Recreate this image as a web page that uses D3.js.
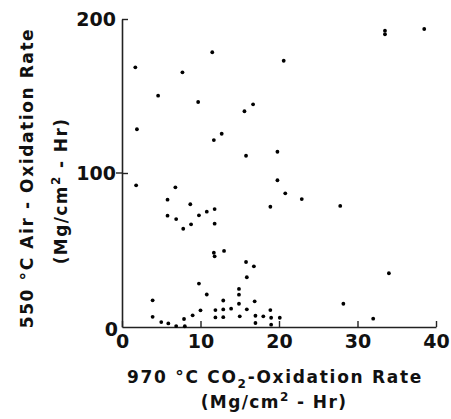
<!DOCTYPE html>
<html>
<head>
<meta charset="utf-8">
<script src="https://cdn.jsdelivr.net/npm/d3@7"></script>
<style>
  body { margin: 0; background: #fff; }
  svg text { font-family: "DejaVu Sans", sans-serif; font-weight: bold; fill: #111; }
</style>
</head>
<body>
<div id="chart"></div>
<script>
// 970 C CO2 oxidation rate (x) vs 550 C air oxidation rate (y), Mg/cm2-Hr
let co2Rate = [11.5, 1.7, 7.7, 4.6, 9.7, 1.9, 12.7, 11.7, 20.6, 16.7, 15.6, 19.8, 15.8,
               33.5, 33.5, 38.5, 1.8, 6.8, 5.8, 8.7, 11.8, 10.8, 9.8, 5.8, 6.9, 11.8, 8.8,
               7.8, 11.7, 11.8, 13.0, 9.8, 3.9, 10.8, 12.9, 10.0, 9.0, 11.9, 12.9, 3.9,
               5.0, 5.9, 7.9, 6.9, 8.0, 11.9, 12.9, 19.8, 20.8, 22.9, 18.9, 27.8, 15.8,
               16.8, 15.9, 14.9, 14.9, 14.9, 16.9, 13.9, 15.9, 18.9, 15.0, 17.0, 18.0,
               19.0, 20.1, 17.0, 19.0, 34.0, 28.2, 32.0];
let airRate = [178.4, 168.6, 165.4, 150.2, 146.1, 128.4, 125.5, 121.4, 172.9, 144.6, 140.1,
               113.8, 111.2, 192.4, 190.1, 193.5, 92.0, 90.7, 82.7, 79.7, 76.6, 74.9, 72.5,
               72.3, 70.1, 67.1, 66.7, 63.8, 48.2, 45.9, 49.4, 28.2, 17.3, 21.1, 17.2, 10.8,
               7.6, 11.0, 11.4, 6.6, 3.2, 2.3, 5.2, 0.6, 0.5, 6.2, 6.4, 95.3, 86.8, 83.1,
               78.1, 78.6, 42.2, 39.4, 32.3, 24.7, 21.0, 15.1, 16.7, 11.9, 11.5, 11.0, 6.9,
               7.3, 6.9, 6.0, 6.0, 2.6, 1.5, 34.9, 15.1, 5.4];
let xTicks = [0, 10, 20, 30, 40];
let yTicks = [0, 100, 200];

let width = 451;
let height = 419;

let svg = d3.select("#chart")
            .append("svg")
            .attr("width", width)
            .attr("height", height)

let data = co2Rate.map((d, i) => ({x: d, y: airRate[i]}));

let xScale = d3.scaleLinear().domain([0, 40]).range([122, 436])
let yScale = d3.scaleLinear().domain([0, 200]).range([327, 19])

let xAxis = d3.axisBottom(xScale)
              .tickValues(xTicks)
              .tickSizeInner(-6)
              .tickSizeOuter(0)
              .tickPadding(8)
let yAxis = d3.axisLeft(yScale)
              .tickValues(yTicks.filter(d => d > 0))
              .tickSizeInner(-6)
              .tickSizeOuter(0)
              .tickPadding(6)

let gx = svg.append("g")
            .attr("transform", `translate(0,${yScale(0)})`)
            .call(xAxis)
            .attr("font-size", 19)
let gy = svg.append("g")
            .attr("transform", `translate(${xScale(0)},0)`)
            .call(yAxis)
            .attr("font-size", 19)

// y "0" sits a bit low, next to the x "0"
gy.append("text")
  .attr("x", -4)
  .attr("y", yScale(0) + 9)
  .attr("text-anchor", "end")
  .text(yTicks[0])

svg.selectAll(".domain").attr("stroke", "#222").attr("stroke-width", 1.6)
svg.selectAll(".tick line").attr("stroke", "#222").attr("stroke-width", 1.4)

// the 100 tick also pokes out to the left
gy.append("line")
  .attr("x1", -6).attr("x2", 0)
  .attr("y1", yScale(100)).attr("y2", yScale(100))
  .attr("stroke", "#222").attr("stroke-width", 1.4)

svg.append("g")
   .selectAll("circle")
   .data(data)
   .enter()
   .append("circle")
   .attr("cx", d => xScale(d.x))
   .attr("cy", d => yScale(d.y))
   .attr("r", 1.9)
   .attr("fill", "#000")

// x title
let xt1 = svg.append("text")
             .attr("x", 275).attr("y", 383)
             .attr("text-anchor", "middle")
             .attr("font-size", 17)
             .style("letter-spacing", "1.7px")
xt1.append("tspan").text("970 °C  CO")
xt1.append("tspan").attr("font-size", 12).attr("dy", 5).text("2")
xt1.append("tspan").attr("dy", -5).text("-Oxidation  Rate")

let xt2 = svg.append("text")
             .attr("x", 274).attr("y", 408)
             .attr("text-anchor", "middle")
             .attr("font-size", 17)
             .style("letter-spacing", "1.4px")
xt2.append("tspan").text("(Mg/cm")
xt2.append("tspan").attr("font-size", 12).attr("dy", -7).text("2")
xt2.append("tspan").attr("dy", 7).text(" - Hr)")

// y title
let yt1 = svg.append("text")
             .attr("transform", "translate(33,178) rotate(-90)")
             .attr("text-anchor", "middle")
             .attr("font-size", 17)
             .style("letter-spacing", "1.6px")
             .text("550 °C Air - Oxidation  Rate")

let yt2 = svg.append("text")
             .attr("transform", "translate(67,191) rotate(-90)")
             .attr("text-anchor", "middle")
             .attr("font-size", 17)
             .style("letter-spacing", "1.4px")
yt2.append("tspan").text("(Mg/cm")
yt2.append("tspan").attr("font-size", 12).attr("dy", -7).text("2")
yt2.append("tspan").attr("dy", 7).text(" - Hr)")
</script>
</body>
</html>
